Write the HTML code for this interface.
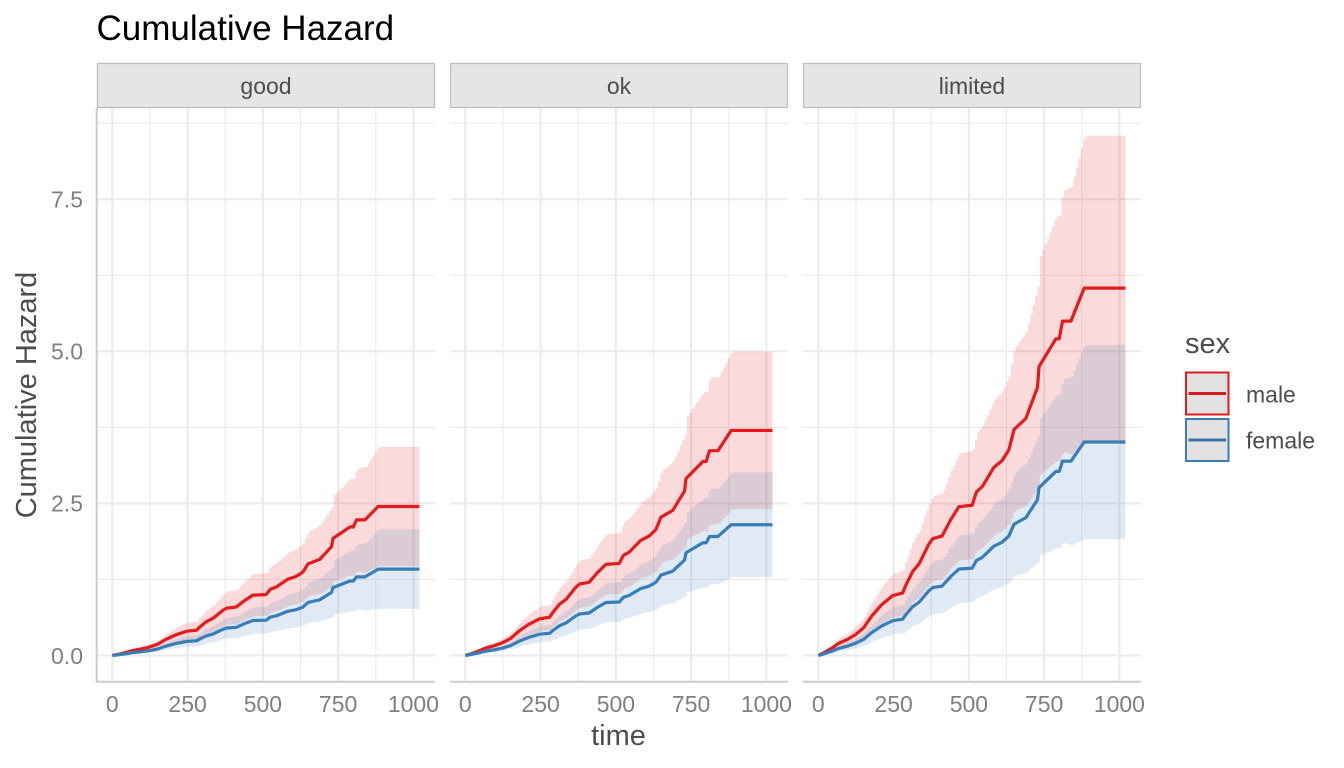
<!DOCTYPE html>
<html>
<head>
<meta charset="utf-8">
<style>
  html, body { margin:0; padding:0; background:#ffffff; }
  svg { display:block; font-family:"Liberation Sans", Arial, sans-serif; }
</style>
</head>
<body>
<svg id="chart" width="1344" height="768" viewBox="0 0 1344 768" xmlns="http://www.w3.org/2000/svg">
  <rect x="0" y="0" width="1344" height="768" fill="#ffffff"/>
  <g id="grid"></g>
  <g id="ribbons"></g>
  <g id="lines"></g>
  <g id="axes"></g>

  <!-- Title -->
  <text x="96.5" y="40" font-size="35" fill="#000000">Cumulative Hazard</text>

  <!-- Strips -->
  <rect x="97.5" y="63.5" width="337" height="44" fill="#e5e5e5" stroke="#bdbdbd" stroke-width="1.2"/>
  <rect x="450.5" y="63.5" width="337" height="44" fill="#e5e5e5" stroke="#bdbdbd" stroke-width="1.2"/>
  <rect x="803.5" y="63.5" width="337" height="44" fill="#e5e5e5" stroke="#bdbdbd" stroke-width="1.2"/>
  <text x="266" y="94" font-size="23" fill="#4d4d4d" text-anchor="middle">good</text>
  <text x="619" y="94" font-size="23" fill="#4d4d4d" text-anchor="middle">ok</text>
  <text x="972" y="94" font-size="23" fill="#4d4d4d" text-anchor="middle">limited</text>

  <!-- Y tick labels -->
  <g font-size="23" fill="#7f7f7f" text-anchor="end">
    <text x="83" y="663.8">0.0</text>
    <text x="83" y="511.7">2.5</text>
    <text x="83" y="359.6">5.0</text>
    <text x="83" y="207.6">7.5</text>
  </g>

  <!-- X tick labels -->
  <g font-size="23" fill="#7f7f7f" text-anchor="middle">
    <text x="112.3" y="712">0</text>
    <text x="187.6" y="712">250</text>
    <text x="262.9" y="712">500</text>
    <text x="338.1" y="712">750</text>
    <text x="413.4" y="712">1000</text>
    <text x="465.3" y="712">0</text>
    <text x="540.6" y="712">250</text>
    <text x="615.9" y="712">500</text>
    <text x="691.1" y="712">750</text>
    <text x="766.4" y="712">1000</text>
    <text x="818.3" y="712">0</text>
    <text x="893.6" y="712">250</text>
    <text x="968.9" y="712">500</text>
    <text x="1044.1" y="712">750</text>
    <text x="1119.4" y="712">1000</text>
  </g>

  <!-- Axis titles -->
  <text x="618.5" y="745" font-size="29" fill="#4d4d4d" text-anchor="middle">time</text>
  <text transform="translate(36,395) rotate(-90)" font-size="29" fill="#4d4d4d" text-anchor="middle">Cumulative Hazard</text>

  <!-- Legend -->
  <text x="1185" y="353" font-size="29" fill="#4d4d4d">sex</text>
  <rect x="1186" y="372.5" width="42.5" height="42" fill="#e2e2e2" stroke="#e41a1c" stroke-width="2"/>
  <line x1="1188.5" y1="393.5" x2="1226" y2="393.5" stroke="#d41c1f" stroke-width="3"/>
  <rect x="1186" y="419" width="42.5" height="42" fill="#e2e2e2" stroke="#377eb8" stroke-width="2"/>
  <line x1="1188.5" y1="440" x2="1226" y2="440" stroke="#3573a8" stroke-width="3"/>
  <text x="1246" y="402.5" font-size="23" fill="#4d4d4d">male</text>
  <text x="1246" y="448.5" font-size="23" fill="#4d4d4d">female</text>
</svg>

<script>
(function(){
  var NS = "http://www.w3.org/2000/svg";
  function el(name, attrs, parent){
    var e = document.createElementNS(NS, name);
    for (var k in attrs) e.setAttribute(k, attrs[k]);
    parent.appendChild(e);
    return e;
  }
  var grid = document.getElementById("grid");
  var ribbons = document.getElementById("ribbons");
  var lines = document.getElementById("lines");
  var axes = document.getElementById("axes");

  var panelL = [97, 450, 803];
  var panelW = 338;
  var x0 = [112.3, 465.3, 818.3];
  var sx = 0.30112;
  var yTop = 108, yBot = 681.7;
  function Y(h){ return 655.5 - h*60.83; }

  // Grid
  for (var p=0; p<3; p++){
    var L = panelL[p], R = L + panelW;
    // minor y
    [1.25,3.75,6.25,8.75].forEach(function(h){
      el("line",{x1:L,x2:R,y1:Y(h),y2:Y(h),stroke:"#ebebeb","stroke-width":1.1},grid);
    });
    [125,375,625,875].forEach(function(t){
      var x = x0[p]+t*sx;
      el("line",{x1:x,x2:x,y1:yTop,y2:yBot,stroke:"#ebebeb","stroke-width":1.1},grid);
    });
    [0,2.5,5,7.5].forEach(function(h){
      el("line",{x1:L,x2:R,y1:Y(h),y2:Y(h),stroke:"#ebebeb","stroke-width":2.1},grid);
    });
    [0,250,500,750,1000].forEach(function(t){
      var x = x0[p]+t*sx;
      el("line",{x1:x,x2:x,y1:yTop,y2:yBot,stroke:"#ebebeb","stroke-width":2.1},grid);
    });
  }

  // Base cumulative hazard shape (normalized)
  var B = [[0,0],[20,0.008],[45,0.02],[67,0.033],[95,0.043],[122,0.056],[150,0.075],[178,0.108],
    [210,0.138],[247,0.163],[280,0.17],[290,0.19],[313,0.228],[335,0.25],[367,0.303],[380,0.318],
    [411,0.325],[440,0.37],[467,0.405],[511,0.409],[525,0.445],[545,0.46],[583,0.512],[610,0.53],
    [633,0.56],[650,0.615],[689,0.645],[705,0.68],[728,0.73],[733,0.786],[789,0.862],[800,0.862],
    [811,0.91],[839,0.91],[883,1.0],[1020,1.0]];
  function b(t){
    for (var i=0;i<B.length-1;i++){
      if (t<=B[i+1][0]){
        var a=B[i], c=B[i+1];
        return a[1] + (c[1]-a[1])*(t-a[0])/(c[0]-a[0]);
      }
    }
    return 1.0;
  }
  function rr(t, rm, re){
    if (t<=650) return rm + (t<150 ? (150-t)/150*0.08 : 0);
    if (t<=811) return rm + (t-650)/161*0.03;
    if (t<=883) return rm + 0.03 + (t-811)/72*(re-rm-0.03);
    return re;
  }

  var series = [
    {col:"#e41a1c", F:[2.45,3.70,6.04], rm:[0.35,0.33,0.36], re:[0.40,0.35,0.415]},
    {col:"#377eb8", F:[1.42,2.15,3.51], rm:[0.38,0.37,0.39], re:[0.46,0.40,0.455]}
  ];

  var tEnd = 1020, step = 8;
  var ts = [];
  for (var t=0; t<tEnd; t+=step) ts.push(t);
  ts.push(tEnd);

  // Ribbons
  for (var p=0; p<3; p++){
    series.forEach(function(s){
      var F = s.F[p], rm = s.rm[p], re = s.re[p];
      var up = [], lo = [];
      for (var i=0;i<ts.length;i++){
        var t = ts[i];
        var h = F*b(t);
        var w = h*rr(t, rm, re);
        up.push([t, h+w]);
        lo.push([t, Math.max(0,h-w)]);
      }
      var d = "";
      for (var i=0;i<up.length;i++){
        var x = x0[p]+up[i][0]*sx;
        var y = Y(up[i][1]);
        if (i===0) d += "M"+x.toFixed(2)+","+y.toFixed(2);
        else {
          d += "L"+x.toFixed(2)+","+Y(up[i-1][1]).toFixed(2);
          d += "L"+x.toFixed(2)+","+y.toFixed(2);
        }
      }
      for (var i=lo.length-1;i>=0;i--){
        var x = x0[p]+lo[i][0]*sx;
        var y = Y(lo[i][1]);
        d += "L"+x.toFixed(2)+","+y.toFixed(2);
        if (i>0) d += "L"+x.toFixed(2)+","+Y(lo[i-1][1]).toFixed(2);
      }
      d += "Z";
      el("path",{d:d, fill:s.col, "fill-opacity":0.16, stroke:"none"}, ribbons);
    });
  }

  // Lines
  for (var p=0; p<3; p++){
    series.forEach(function(s){
      var F = s.F[p];
      var pts = B.map(function(k){
        return (x0[p]+k[0]*sx).toFixed(2)+","+Y(F*k[1]).toFixed(2);
      });
      el("polyline",{points:pts.join(" "), fill:"none", stroke:s.col, "stroke-width":3.2,
        "stroke-linejoin":"round","stroke-linecap":"butt"}, lines);
    });
  }

  // Axes
  el("line",{x1:96.7,x2:96.7,y1:yTop,y2:yBot+1,stroke:"#cccccc","stroke-width":2},axes);
  for (var p=0; p<3; p++){
    el("line",{x1:panelL[p]-0.3,x2:panelL[p]+panelW,y1:yBot,y2:yBot,stroke:"#cccccc","stroke-width":2},axes);
  }
})();
</script>
</body>
</html>
